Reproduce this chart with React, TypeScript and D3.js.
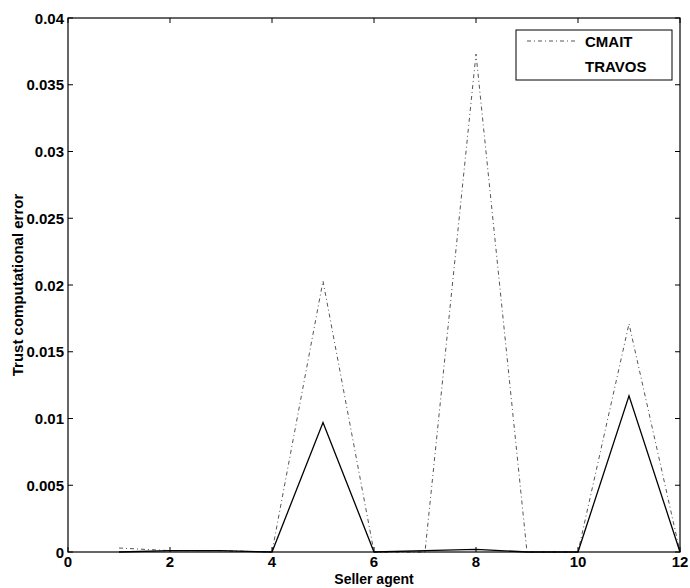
import React from "react";
import * as d3 from "d3";

const sellers = [1, 2, 3, 4, 5, 6, 7, 8, 9, 10, 11, 12];
const cmait = [0.0003, 0.0001, 0.0001, 0, 0.0203, 0, 0, 0.0373, 0, 0, 0.0171, 0];
const travos = [0, 0.0001, 0.0001, 0, 0.0097, 0, 0.0001, 0.0002, 0, 0, 0.0117, 0];
const xTicks = [0, 2, 4, 6, 8, 10, 12];
const yTicks = [0, 0.005, 0.01, 0.015, 0.02, 0.025, 0.03, 0.035, 0.04];
const yTickLabels = ["0", "0.005", "0.01", "0.015", "0.02", "0.025", "0.03", "0.035", "0.04"];

const W = 690;
const H = 588;
const L = 68, R = 680, T = 18, B = 552;

export default function App() {
  const x = d3.scaleLinear().domain([0, 12]).range([L, R]);
  const y = d3.scaleLinear().domain([0, 0.04]).range([B, T]);
  const line = d3
    .line<number>()
    .x((_, i) => x(sellers[i]))
    .y((d) => y(d));
  const font = "'Liberation Sans', Arial, sans-serif";
  return (
    <svg
      width={W}
      height={H}
      style={{ position: "absolute", left: 0, top: 0, background: "#fff" }}
      fontFamily={font}
    >
      <rect x={0} y={0} width={W} height={H} fill="#fff" />
      {/* data */}
      <path d={line(cmait) || ""} fill="none" stroke="#555" strokeWidth={1} strokeDasharray="4 3 1 3" />
      <path d={line(travos) || ""} fill="none" stroke="#000" strokeWidth={1.3} />
      {/* frame */}
      <rect x={L} y={T} width={R - L} height={B - T} fill="none" stroke="#000" strokeWidth={1.2} />
      {/* y ticks */}
      {yTicks.map((t, i) => (
        <g key={"y" + i}>
          <line x1={L} x2={L + 5} y1={y(t)} y2={y(t)} stroke="#000" />
          <line x1={R} x2={R - 5} y1={y(t)} y2={y(t)} stroke="#000" />
          <text x={L - 4} y={y(t) + 5.5} textAnchor="end" fontSize={15} fontWeight="bold">
            {yTickLabels[i]}
          </text>
        </g>
      ))}
      {/* x ticks */}
      {xTicks.map((t, i) => (
        <g key={"x" + i}>
          <line x1={x(t)} x2={x(t)} y1={B} y2={B - 5} stroke="#000" />
          <line x1={x(t)} x2={x(t)} y1={T} y2={T + 5} stroke="#000" />
          <text x={x(t)} y={B + 15} textAnchor="middle" fontSize={15} fontWeight="bold">
            {t}
          </text>
        </g>
      ))}
      {/* axis titles */}
      <text x={(L + R) / 2} y={584} textAnchor="middle" fontSize={14} fontWeight="bold">
        Seller agent
      </text>
      <text
        transform={`translate(23, ${(T + B) / 2}) rotate(-90)`}
        textAnchor="middle"
        fontSize={15}
        fontWeight="bold"
      >
        Trust computational error
      </text>
      {/* legend */}
      <rect x={516} y={30} width={156} height={50} fill="#fff" stroke="#000" strokeWidth={1} />
      <line x1={527} x2={576} y1={41} y2={41} stroke="#555" strokeWidth={1} strokeDasharray="4 3 1 3" />
      <text x={585} y={47} fontSize={15} fontWeight="bold">CMAIT</text>
      <text x={585} y={72} fontSize={15} fontWeight="bold">TRAVOS</text>
    </svg>
  );
}
